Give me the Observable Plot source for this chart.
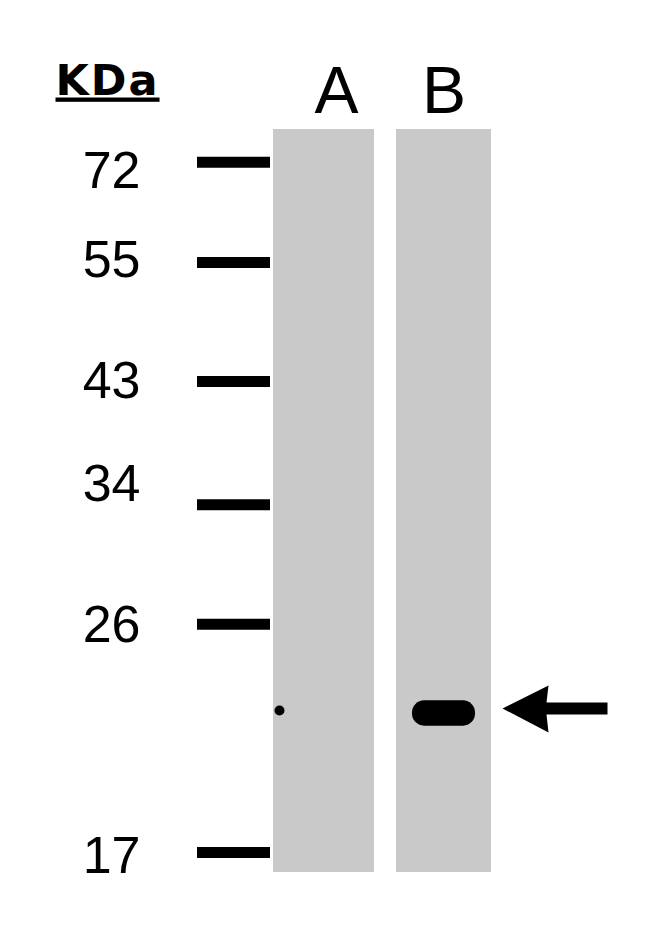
<!DOCTYPE html>
<html>
<head>
<meta charset="utf-8">
<script src="https://cdn.jsdelivr.net/npm/d3@7"></script>
<script src="https://cdn.jsdelivr.net/npm/@observablehq/plot@0.6"></script>
<style>
  html, body { margin: 0; padding: 0; background: #ffffff; }
  #chart { width: 650px; height: 945px; }
</style>
</head>
<body>
<div id="chart"></div>
<script>
// ---- data read from the blot ----
const unitLabel = "KDa";
const lanes = ["A", "B"];
const markerLabels = ["72", "55", "43", "34", "26", "17"];
const markerKDa = [72, 55, 43, 34, 26, 17];
// relative migration (0 = top of lane, 1 = bottom of lane)
const markerRf = [0.044, 0.179, 0.339, 0.505, 0.666, 0.973];
// detected band (arrowed) and a small spot
const bandLanes = ["B"];
const bandRf = [0.786];
const spotLanes = ["A"];
const spotRf = [0.782];

// ---- build tables ----
const markers = markerKDa.map((k, i) => ({kda: k, label: markerLabels[i], rf: markerRf[i]}));
const bands = bandLanes.map((l, i) => ({lane: l, rf: bandRf[i]}));
const spots = spotLanes.map((l, i) => ({lane: l, rf: spotRf[i]}));

// ---- styling offsets ----
const labelNudge = {"72": 26, "55": 15, "43": 17, "34": -4, "26": 18, "17": 21};
const laneLabelNudge = {"A": 12.5, "B": -3};
const laneInsetRight = {"A": 0, "B": 6};

// filled arrow symbol pointing left, tip at origin
const arrowSymbol = {
  draw(context, size) {
    const k = Math.sqrt(size / Math.PI);
    const pts = [[0, 0], [46, -23], [44, -6], [105, -6], [105, 6], [44, 6], [46, 24]];
    context.moveTo(pts[0][0] * k, pts[0][1] * k);
    for (let i = 1; i < pts.length; ++i) context.lineTo(pts[i][0] * k, pts[i][1] * k);
    context.closePath();
  }
};

const chart = Plot.plot({
  width: 650,
  height: 945,
  marginTop: 129,
  marginBottom: 73,
  marginLeft: 150,
  marginRight: 153,
  style: {background: "#ffffff", fontFamily: "Liberation Sans, Arial, sans-serif", color: "#000"},
  x: {type: "band", domain: ["ladder", ...lanes], paddingInner: 0.179, paddingOuter: 0, axis: null},
  y: {domain: [0, 1], reverse: true, axis: null},
  marks: [
    // lanes
    ...lanes.map(l => Plot.barY([l], {x: d => d, y1: 0, y2: 1, fill: "#c9c9c9", insetRight: laneInsetRight[l]})),
    // marker ticks
    Plot.tickY(markers, {x: () => "ladder", y: "rf", stroke: "#000", strokeWidth: 11, insetRight: 28, dx: 47}),
    // marker labels
    ...markers.map(m => Plot.text([m], {
      x: () => "ladder", y: "rf", text: "label",
      textAnchor: "end", lineAnchor: "bottom", dx: -60.5, dy: labelNudge[m.label],
      fontSize: 52, fill: "#000", fontFamily: "Liberation Sans"
    })),
    // lane labels
    ...lanes.map(l => Plot.text([l], {
      x: d => d, text: d => d, frameAnchor: "top", lineAnchor: "bottom",
      dy: -17, dx: laneLabelNudge[l], fontSize: 66, fill: "#000", fontFamily: "Liberation Sans"
    })),
    // unit label
    Plot.text([unitLabel], {
      text: d => d, frameAnchor: "top-left", textAnchor: "start", lineAnchor: "bottom",
      dx: -95, dy: -35, fontSize: 43, fontWeight: "bold", fill: "#000", fontFamily: "DejaVu Sans"
    }),
    // band
    Plot.barY(bands, {x: "lane", y1: d => d.rf - 0.017, y2: d => d.rf + 0.017,
      insetLeft: 16, insetRight: 22, fill: "#000", rx: 12}),
    // spot
    Plot.dot(spots, {x: "lane", y: "rf", r: 5, fill: "#000", stroke: "none", dx: -44.5}),
    // arrow
    Plot.dot(bands, {x: "lane", y: "rf", symbol: arrowSymbol, r: 1, fill: "#000", stroke: "none", dx: 55.5, dy: -5})
  ]
});

// underline the unit label
chart.querySelectorAll("text").forEach(t => {
  if (t.textContent === unitLabel) {
    t.style.textDecoration = "underline";
    t.style.letterSpacing = "2px";
  }
});

document.getElementById("chart").appendChild(chart);
</script>
</body>
</html>
